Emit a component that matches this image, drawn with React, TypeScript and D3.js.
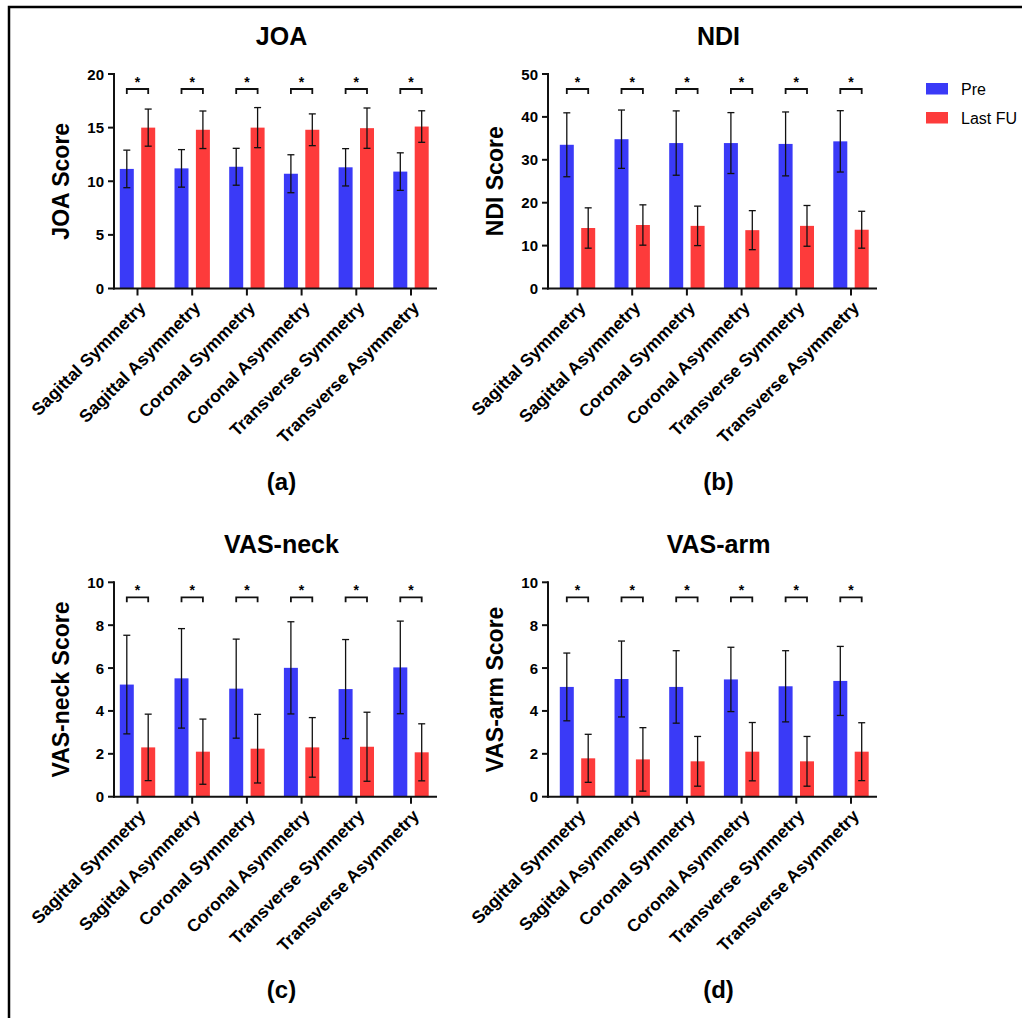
import * as d3 from "d3"

const categories = [
  "Sagittal Symmetry",
  "Sagittal Asymmetry",
  "Coronal Symmetry",
  "Coronal Asymmetry",
  "Transverse Symmetry",
  "Transverse Asymmetry",
]

const joaPre = [11.15, 11.2, 11.35, 10.7, 11.3, 10.9]
const joaPreSd = [1.75, 1.75, 1.72, 1.77, 1.74, 1.75]
const joaPost = [15.0, 14.8, 15.0, 14.8, 14.95, 15.1]
const joaPostSd = [1.73, 1.75, 1.87, 1.48, 1.88, 1.47]
const joaTicks = [0, 5, 10, 15, 20]

const ndiPre = [33.5, 34.8, 33.9, 33.9, 33.7, 34.3]
const ndiPreSd = [7.45, 6.8, 7.5, 7.1, 7.45, 7.15]
const ndiPost = [14.1, 14.8, 14.6, 13.6, 14.6, 13.7]
const ndiPostSd = [4.7, 4.7, 4.6, 4.55, 4.75, 4.3]
const ndiTicks = [0, 10, 20, 30, 40, 50]

const neckPre = [5.23, 5.52, 5.04, 6.01, 5.02, 6.03]
const neckPreSd = [2.3, 2.32, 2.31, 2.15, 2.31, 2.16]
const neckPost = [2.3, 2.1, 2.24, 2.3, 2.33, 2.07]
const neckPostSd = [1.55, 1.52, 1.6, 1.39, 1.61, 1.33]

const armPre = [5.12, 5.49, 5.12, 5.47, 5.15, 5.4]
const armPreSd = [1.58, 1.77, 1.69, 1.5, 1.66, 1.61]
const armPost = [1.79, 1.74, 1.65, 2.1, 1.65, 2.1]
const armPostSd = [1.12, 1.48, 1.16, 1.36, 1.16, 1.35]
const vasTicks = [0, 2, 4, 6, 8, 10]

const seriesNames = ["Pre", "Last FU"]
const BLUE = "#3a3af7"
const RED = "#fd3b3b"
const FONT = "'Liberation Sans', Arial, sans-serif"

type PanelProps = {
  left: number
  right: number
  top: number
  bottom: number
  c0: number
  c5: number
  title: string
  yLabel: string
  caption: string
  ticks: number[]
  pre: number[]
  preSd: number[]
  post: number[]
  postSd: number[]
}

function Panel(p: PanelProps) {
  const max = p.ticks[p.ticks.length - 1]
  const y = d3.scaleLinear().domain([0, max]).range([p.bottom, p.top])
  const x = d3.scalePoint<string>().domain(categories).range([p.c0, p.c5])
  const bw = 14
  const gap = 3.7
  const midX = (p.left + p.right) / 2 + 6
  const midY = (p.top + p.bottom) / 2
  const brY = y(max) + 15

  const errBar = (cx: number, m: number, sd: number) => (
    <g stroke="#111" strokeWidth={1.3}>
      <line x1={cx} x2={cx} y1={y(m + sd)} y2={y(m - sd)} />
      <line x1={cx - 3.5} x2={cx + 3.5} y1={y(m + sd)} y2={y(m + sd)} />
      <line x1={cx - 3.5} x2={cx + 3.5} y1={y(m - sd)} y2={y(m - sd)} />
    </g>
  )

  return (
    <g fontFamily={FONT}>
      <text x={midX} y={p.top - 29} textAnchor="middle" fontSize={25} fontWeight="bold">
        {p.title}
      </text>
      <text
        transform={`translate(${p.left - 53},${midY}) rotate(-90)`}
        textAnchor="middle"
        dominantBaseline="central"
        fontSize={23}
        fontWeight="bold"
      >
        {p.yLabel}
      </text>
      {categories.map((c, i) => {
        const cx = x(c) as number
        const bx = cx - gap - bw
        const rx = cx + gap
        return (
          <g key={c}>
            <rect x={bx} width={bw} y={y(p.pre[i])} height={p.bottom - y(p.pre[i])} fill={BLUE} />
            <rect x={rx} width={bw} y={y(p.post[i])} height={p.bottom - y(p.post[i])} fill={RED} />
            {errBar(bx + bw / 2, p.pre[i], p.preSd[i])}
            {errBar(rx + bw / 2, p.post[i], p.postSd[i])}
            <path
              d={`M${bx + bw / 2},${brY + 5}V${brY}H${rx + bw / 2}V${brY + 5}`}
              fill="none"
              stroke="#111"
              strokeWidth={1.8}
            />
            <text x={cx} y={brY - 2} textAnchor="middle" fontSize={14} fontWeight="bold">
              *
            </text>
            <line x1={cx} x2={cx} y1={p.bottom} y2={p.bottom + 7} stroke="#111" strokeWidth={2} />
            <text
              transform={`translate(${cx + 5},${p.bottom + 16}) rotate(-45)`}
              textAnchor="end"
              dominantBaseline="central"
              fontSize={17.5}
              fontWeight="bold"
            >
              {c}
            </text>
          </g>
        )
      })}
      {p.ticks.map((t) => (
        <g key={t}>
          <line x1={p.left - 6} x2={p.left} y1={y(t)} y2={y(t)} stroke="#111" strokeWidth={2} />
          <text
            x={p.left - 10}
            y={y(t)}
            textAnchor="end"
            dominantBaseline="central"
            fontSize={15}
            fontWeight="bold"
          >
            {t}
          </text>
        </g>
      ))}
      <line x1={p.left} x2={p.left} y1={p.top - 1} y2={p.bottom + 1} stroke="#111" strokeWidth={2} />
      <line x1={p.left - 1} x2={p.right} y1={p.bottom} y2={p.bottom} stroke="#111" strokeWidth={2} />
      <text x={midX} y={p.bottom + 201} textAnchor="middle" fontSize={24} fontWeight="bold">
        {p.caption}
      </text>
    </g>
  )
}

export default function App() {
  const colL = { left: 114, right: 437, c0: 137.5, c5: 411 }
  const colR = { left: 548, right: 877, c0: 577.5, c5: 851 }
  const rowT = { top: 74, bottom: 288.5 }
  const rowB = { top: 582.3, bottom: 796.7 }
  return (
    <svg
      width={1029}
      height={1018}
      style={{ position: "absolute", left: 0, top: 0, background: "#fff" }}
    >
      <rect width={1029} height={1018} fill="#fff" />
      <path d="M9,1018V7H1022" fill="none" stroke="#000" strokeWidth={2.5} />
      <Panel {...colL} {...rowT} title="JOA" yLabel="JOA Score" caption="(a)" ticks={joaTicks}
        pre={joaPre} preSd={joaPreSd} post={joaPost} postSd={joaPostSd} />
      <Panel {...colR} {...rowT} title="NDI" yLabel="NDI Score" caption="(b)" ticks={ndiTicks}
        pre={ndiPre} preSd={ndiPreSd} post={ndiPost} postSd={ndiPostSd} />
      <Panel {...colL} {...rowB} title="VAS-neck" yLabel="VAS-neck Score" caption="(c)" ticks={vasTicks}
        pre={neckPre} preSd={neckPreSd} post={neckPost} postSd={neckPostSd} />
      <Panel {...colR} {...rowB} title="VAS-arm" yLabel="VAS-arm Score" caption="(d)" ticks={vasTicks}
        pre={armPre} preSd={armPreSd} post={armPost} postSd={armPostSd} />
      <g fontFamily={FONT} fontSize={16}>
        {seriesNames.map((s, i) => (
          <g key={s} transform={`translate(926,${83 + i * 29})`}>
            <rect width={22} height={11.5} fill={i === 0 ? BLUE : RED} />
            <text x={35} y={11.5}>{s}</text>
          </g>
        ))}
      </g>
    </svg>
  )
}
